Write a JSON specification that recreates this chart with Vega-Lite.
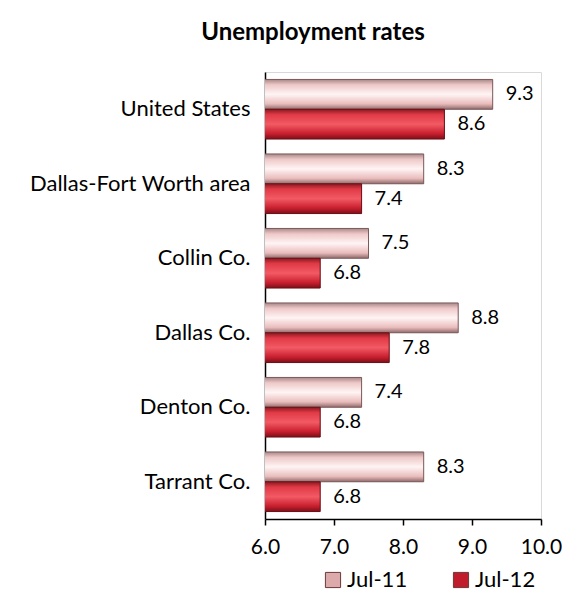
{
  "$schema": "https://vega.github.io/schema/vega-lite/v6.json",
  "autosize": {"type": "none"},
  "padding": {"left": 265, "top": 72, "right": 24, "bottom": 79},
  "width": 276,
  "height": 447,
  "background": "white",
  "title": {
    "text": "Unemployment rates",
    "font": "Lato",
    "fontSize": 24,
    "fontWeight": "bold",
    "color": "black",
    "anchor": "middle",
    "frame": "group",
    "dx": -90,
    "offset": 27
  },
  "config": {
    "view": {"stroke": "#d9d9d9", "strokeWidth": 1},
    "font": "Lato"
  },
  "data": {
    "values": [
      {"area": "United States", "period": "Jul-11", "rate": 9.3},
      {"area": "United States", "period": "Jul-12", "rate": 8.6},
      {"area": "Dallas-Fort Worth area", "period": "Jul-11", "rate": 8.3},
      {"area": "Dallas-Fort Worth area", "period": "Jul-12", "rate": 7.4},
      {"area": "Collin Co.", "period": "Jul-11", "rate": 7.5},
      {"area": "Collin Co.", "period": "Jul-12", "rate": 6.8},
      {"area": "Dallas Co.", "period": "Jul-11", "rate": 8.8},
      {"area": "Dallas Co.", "period": "Jul-12", "rate": 7.8},
      {"area": "Denton Co.", "period": "Jul-11", "rate": 7.4},
      {"area": "Denton Co.", "period": "Jul-12", "rate": 6.8},
      {"area": "Tarrant Co.", "period": "Jul-11", "rate": 8.3},
      {"area": "Tarrant Co.", "period": "Jul-12", "rate": 6.8}
    ]
  },
  "encoding": {
    "y": {
      "field": "area",
      "type": "nominal",
      "sort": null,
      "scale": {"paddingInner": 0.2, "paddingOuter": 0.1},
      "axis": {
        "title": null,
        "ticks": false,
        "labelFontSize": 22,
        "labelColor": "black",
        "labelPadding": 15,
        "domainColor": "black",
        "domainWidth": 1.5,
        "labelLimit": 300
      }
    },
    "yOffset": {
      "field": "period",
      "type": "nominal",
      "scale": {"domain": ["Jul-11", "Jul-12"], "paddingInner": 0, "paddingOuter": 0}
    },
    "x": {
      "field": "rate",
      "type": "quantitative",
      "scale": {"domain": [6, 10], "zero": false, "nice": false},
      "axis": {
        "title": null,
        "values": [6, 7, 8, 9, 10],
        "format": ".1f",
        "grid": false,
        "labelFlush": false,
        "labelOverlap": false,
        "labelFontSize": 21,
        "labelColor": "black",
        "labelPadding": 11,
        "domainColor": "black",
        "domainWidth": 1.5,
        "tickColor": "black",
        "tickWidth": 1.5,
        "tickSize": 6
      }
    }
  },
  "layer": [
    {
      "mark": {"type": "bar", "clip": true},
      "encoding": {
        "color": {
          "field": "period",
          "type": "nominal",
          "scale": {"domain": ["Jul-11", "Jul-12"], "range": ["#dcaaaa", "#c01c2c"]},
          "legend": {
            "title": null,
            "orient": "none",
            "legendX": 57,
            "legendY": 497,
            "direction": "horizontal",
            "symbolType": "square",
            "symbolSize": 230,
            "symbolStrokeColor": "#6a3a3a",
            "symbolStrokeWidth": 1,
            "symbolOpacity": 1,
            "labelFontSize": 22,
            "labelColor": "black",
            "labelOffset": 3,
            "columnPadding": 42
          }
        }
      }
    },
    {
      "transform": [{"filter": "datum.period === 'Jul-11'"}],
      "mark": {
        "type": "bar",
        "clip": true,
        "stroke": "#7a5a5a",
        "strokeWidth": 1,
        "fill": {
          "gradient": "linear",
          "x1": 0, "y1": 0, "x2": 0, "y2": 1,
          "stops": [
            {"offset": 0, "color": "#a88888"},
            {"offset": 0.18, "color": "#eec8c8"},
            {"offset": 0.5, "color": "#fff4f4"},
            {"offset": 0.82, "color": "#eabcbc"},
            {"offset": 1, "color": "#8e6a6a"}
          ]
        }
      }
    },
    {
      "transform": [{"filter": "datum.period === 'Jul-12'"}],
      "mark": {
        "type": "bar",
        "clip": true,
        "stroke": "#6a1018",
        "strokeWidth": 1,
        "fill": {
          "gradient": "linear",
          "x1": 0, "y1": 0, "x2": 0, "y2": 1,
          "stops": [
            {"offset": 0, "color": "#8a1820"},
            {"offset": 0.18, "color": "#e03a46"},
            {"offset": 0.5, "color": "#f25a64"},
            {"offset": 0.82, "color": "#c81e2e"},
            {"offset": 1, "color": "#7a1018"}
          ]
        }
      }
    },
    {
      "mark": {"type": "text", "align": "left", "baseline": "middle", "dx": 13, "fontSize": 20, "color": "black"},
      "encoding": {
        "text": {"field": "rate", "type": "quantitative", "format": ".1f"}
      }
    }
  ]
}
